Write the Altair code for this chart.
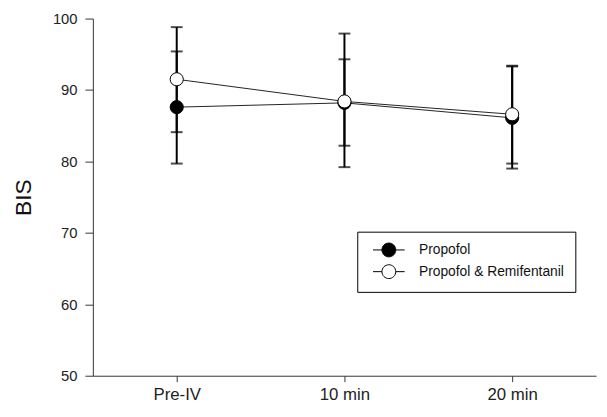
import altair as alt
import pandas as pd

times = ["Pre-IV", "10 min", "20 min"]
series_names = ["Propofol", "Propofol & Remifentanil"]

propofol_mean = [87.6, 88.2, 86.1]
propofol_low = [79.7, 82.2, 79.0]
propofol_high = [95.4, 94.3, 93.3]

remi_mean = [91.5, 88.4, 86.6]
remi_low = [84.1, 79.2, 79.7]
remi_high = [98.8, 97.9, 93.4]

rows = []
for name, m, lo, hi in [
    (series_names[0], propofol_mean, propofol_low, propofol_high),
    (series_names[1], remi_mean, remi_low, remi_high),
]:
    for t, mv, lv, hv in zip(times, m, lo, hi):
        rows.append({"time": t, "series": name, "mean": mv, "low": lv, "high": hv})
df = pd.DataFrame(rows)

FONT = "Liberation Sans"

x_enc = alt.X(
    "time:N",
    sort=times,
    scale=alt.Scale(type="point", padding=0.5),
    axis=alt.Axis(
        title=None,
        labelAngle=0,
        labelFontSize=17,
        labelFont=FONT,
        labelColor="#222222",
        tickSize=6,
        tickColor="#333333",
        domainColor="#333333",
        labelPadding=5,
        grid=False,
    ),
)
y_scale = alt.Scale(domain=[50, 100], nice=False, zero=False)
y_axis = alt.Axis(
    title="BIS",
    values=[50, 60, 70, 80, 90, 100],
    labelFontSize=15,
    labelFont=FONT,
    labelColor="#222222",
    tickSize=8,
    tickColor="#333333",
    domainColor="#333333",
    labelPadding=8,
    grid=False,
    titleFont=FONT,
    titleFontSize=23,
    titleFontWeight="normal",
    titleColor="#111111",
    titleAngle=-90,
    titleAlign="center",
    titleBaseline="middle",
    titleX=-70,
    titleY=181,
)

base = alt.Chart(df)

bars = base.mark_rule(color="black", strokeWidth=2).encode(
    x=x_enc,
    y=alt.Y("low:Q", scale=y_scale, axis=y_axis),
    y2="high:Q",
)
caps_lo = base.mark_tick(color="black", size=12, thickness=2, orient="horizontal").encode(
    x=x_enc, y=alt.Y("low:Q", scale=y_scale)
)
caps_hi = base.mark_tick(color="black", size=12, thickness=2, orient="horizontal").encode(
    x=x_enc, y=alt.Y("high:Q", scale=y_scale)
)
lines = base.mark_line(color="#222222", strokeWidth=1).encode(
    x=x_enc,
    y=alt.Y("mean:Q", scale=y_scale),
    detail="series:N",
)

legend_path = "M-2.29,0L-1,0M1,0L2.29,0M1,0A1,1,0,1,1,-1,0A1,1,0,1,1,1,0Z"

points = base.mark_point(
    filled=True, size=177, stroke="black", strokeWidth=1, opacity=1, shape="circle"
).encode(
    x=x_enc,
    y=alt.Y("mean:Q", scale=y_scale),
    fill=alt.Fill(
        "series:N",
        scale=alt.Scale(domain=series_names, range=["black", "white"]),
        legend=alt.Legend(
            title=None,
            orient="none",
            legendX=268,
            legendY=216,
            strokeColor="black",
            fillColor="white",
            padding=11,
            symbolType=legend_path,
            symbolSize=196,
            symbolStrokeColor="black",
            symbolStrokeWidth=1,
            symbolOffset=13.5,
            labelOffset=23,
            rowPadding=3,
            labelFont=FONT,
            labelFontSize=14,
            labelColor="#111111",
        ),
    ),
)

chart = (
    alt.layer(bars, caps_lo, caps_hi, lines, points)
    .properties(
        width=510,
        height=362,
        autosize=alt.AutoSizeParams(type="none"),
        padding={"left": 86, "top": 8, "right": 3, "bottom": 31},
    )
    .configure_view(stroke=None)
)

chart.save("out.html", embed_options={"renderer": "svg", "actions": False})
